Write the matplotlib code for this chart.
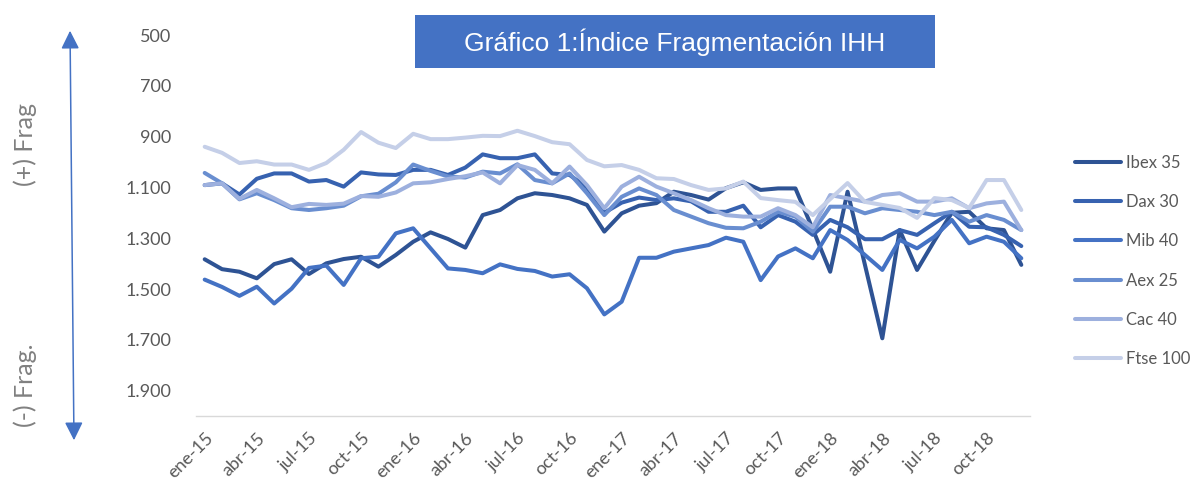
#!/usr/bin/env python

import matplotlib
matplotlib.use("Agg")
import matplotlib.pyplot as plt
from matplotlib.patches import FancyArrowPatch, Rectangle
from matplotlib.ticker import FuncFormatter

# monthly series, ene-15 .. dic-18
months = [f"{m}-{y}" for y in range(15, 19)
          for m in ["ene", "feb", "mar", "abr", "may", "jun",
                    "jul", "ago", "sep", "oct", "nov", "dic"]]

ibex = [1383, 1422, 1432, 1458, 1402, 1383, 1441, 1399,
        1382, 1373, 1412, 1366, 1314, 1277, 1303, 1337, 1209,
        1189, 1143, 1123, 1130, 1143, 1169, 1274,
        1202, 1172, 1162, 1117, 1130, 1148, 1103, 1080,
        1110, 1104, 1104, 1265, 1432, 1117, 1405, 1694,
        1268, 1425, 1310, 1200, 1196, 1261, 1268, 1405]
dax = [1091, 1084, 1128, 1066, 1045, 1045, 1077, 1071,
       1097, 1041, 1049, 1051, 1031, 1031, 1051, 1022, 970,
       985, 985, 970, 1045, 1051, 1100, 1200,
       1160, 1140, 1150, 1143, 1155, 1196, 1196, 1172,
       1257, 1209, 1235, 1287, 1228, 1257, 1304, 1304,
       1268, 1287, 1241, 1196, 1255, 1257, 1287, 1331]
mib = [1463, 1492, 1527, 1491, 1557, 1499, 1417, 1408,
       1484, 1379, 1373, 1281, 1261, 1340, 1419, 1425, 1438,
       1403, 1421, 1429, 1451, 1442, 1497, 1600,
       1550, 1377, 1377, 1353, 1340, 1327, 1298, 1314,
       1465, 1372, 1340, 1379, 1268, 1307, 1366, 1425,
       1307, 1340, 1294, 1228, 1320, 1294, 1314, 1379]
aex = [1043, 1084, 1147, 1123, 1150, 1182, 1189, 1182,
       1172, 1135, 1125, 1080, 1010, 1035, 1057, 1061, 1038,
       1045, 1009, 1071, 1084, 1045, 1123, 1209,
       1137, 1104, 1130, 1189, 1215, 1241, 1259, 1261,
       1235, 1196, 1215, 1274, 1176, 1176, 1202, 1182,
       1189, 1196, 1209, 1196, 1235, 1209, 1228, 1268]
cac = [1091, 1084, 1145, 1110, 1143, 1178, 1165, 1169,
       1164, 1134, 1137, 1120, 1084, 1080, 1067, 1056, 1041,
       1084, 1012, 1031, 1084, 1018, 1091, 1182,
       1097, 1058, 1097, 1123, 1150, 1182, 1209, 1215,
       1215, 1182, 1209, 1257, 1130, 1143, 1156, 1130,
       1123, 1156, 1156, 1143, 1182, 1163, 1156, 1268]
ftse = [940, 964, 1004, 997, 1010, 1010, 1031, 1004,
        952, 882, 924, 945, 889, 910, 910, 904, 897,
        898, 877, 898, 922, 930, 992, 1017,
        1012, 1031, 1064, 1067, 1091, 1110, 1104, 1077,
        1142, 1150, 1157, 1209, 1146, 1083, 1157, 1169,
        1181, 1220, 1142, 1150, 1181, 1071, 1071, 1189]

series_names = ["Ibex 35", "Dax 30", "Mib 40", "Aex 25", "Cac 40", "Ftse 100"]
series_values = [ibex, dax, mib, aex, cac, ftse]
colors = ["#2E5394", "#3762B0", "#4472C4", "#698ED0", "#9DB0DE", "#C5CFE8"]

y_ticks = [500, 700, 900, 1100, 1300, 1500, 1700, 1900]

plt.rcParams["font.family"] = ["Lato", "DejaVu Sans"]
grey = "#595959"

W, H = 1194, 484
fig = plt.figure(figsize=(W / 100, H / 100), dpi=100)
ax = fig.add_axes([196 / W, 1 - 416 / H, (1030 - 196) / W, (416 - 35) / H])

x = list(range(len(months)))
for name, values, color in zip(series_names, series_values, colors):
    ax.plot(x, values, color=color, lw=2.9, label=name,
            solid_joinstyle="round", solid_capstyle="round")

ax.set_xlim(-0.5, len(months) - 0.5)
ax.set_ylim(2000, 500)
ax.set_yticks(y_ticks)
ax.yaxis.set_major_formatter(FuncFormatter(lambda v, _: f"{v:,.0f}".replace(",", ".")))
ax.set_xticks(x[::3])
ax.set_xticklabels(months[::3], rotation=45, ha="right", rotation_mode="anchor")

ax.tick_params(axis="y", length=0, pad=18, labelsize=13, labelcolor=grey)
ax.tick_params(axis="x", length=0, pad=10, labelsize=13, labelcolor=grey)
for side in ["top", "right", "left"]:
    ax.spines[side].set_visible(False)
ax.spines["bottom"].set_color("#D9D9D9")
ax.spines["bottom"].set_linewidth(1.0)

leg = fig.legend(loc="upper left", bbox_to_anchor=(1068 / W, 1 - 148 / H),
                 frameon=False, fontsize=12, handlelength=2.8,
                 handletextpad=0.25, labelspacing=1.4, borderaxespad=0)
for txt in leg.get_texts():
    txt.set_color(grey)

# title box
fig.add_artist(Rectangle((415 / W, 1 - 68 / H), (935 - 415) / W, 53 / H,
                         transform=fig.transFigure, facecolor="#4472C4",
                         edgecolor="none"))
fig.text(675 / W, 1 - 42 / H, "Gráfico 1:Índice Fragmentación IHH",
         color="white", fontsize=19, ha="center", va="center",
         family=["Liberation Sans", "DejaVu Sans"])

# fragmentation arrow
fig.add_artist(FancyArrowPatch((70 / W, 1 - 28 / H), (74 / W, 1 - 443 / H),
                               transform=fig.transFigure,
                               arrowstyle="<|-|>,head_length=1.1,head_width=0.55",
                               mutation_scale=10, color="#4472C4", lw=1.1))
fig.text(25 / W, 1 - 145 / H, "(+) Frag", rotation=90, color="#808080",
         fontsize=18, ha="center", va="center")
fig.text(25 / W, 1 - 385 / H, "(-) Frag.", rotation=90, color="#808080",
         fontsize=18, ha="center", va="center")

fig.savefig("out.png", dpi=100)
